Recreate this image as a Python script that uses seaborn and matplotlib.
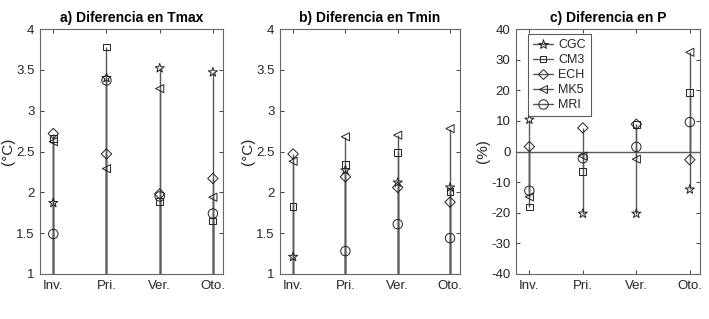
import numpy as np
import pandas as pd
import matplotlib
matplotlib.use("Agg")
import matplotlib.pyplot as plt
import seaborn as sns
from matplotlib.legend_handler import HandlerLine2D
from matplotlib.lines import Line2D

# ---------------- data ----------------
seasons = ["Inv.", "Pri.", "Ver.", "Oto."]
models = ["CGC", "CM3", "ECH", "MK5", "MRI"]

tmax_CGC = [1.87, 3.40, 3.52, 3.47]
tmax_CM3 = [2.66, 3.78, 1.89, 1.65]
tmax_ECH = [2.72, 2.47, 1.98, 2.17]
tmax_MK5 = [2.62, 2.29, 3.27, 1.94]
tmax_MRI = [1.49, 3.37, 1.95, 1.74]

tmin_CGC = [1.21, 2.27, 2.12, 2.06]
tmin_CM3 = [1.83, 2.34, 2.49, 2.01]
tmin_ECH = [2.47, 2.19, 2.06, 1.88]
tmin_MK5 = [2.38, 2.68, 2.70, 2.78]
tmin_MRI = [0.90, 1.28, 1.61, 1.44]

p_CGC = [10.4, -20.3, -20.3, -12.4]
p_CM3 = [-18.1, -6.5, 8.7, 19.2]
p_ECH = [1.6, 7.7, 8.9, -2.7]
p_MK5 = [-14.8, -1.5, -2.5, 32.4]
p_MRI = [-12.8, -2.2, 1.5, 9.6]

titles = ["a) Diferencia en Tmax", "b) Diferencia en Tmin", "c) Diferencia en P"]
ylabels = ["(°C)", "(°C)", "(%)"]

# ---------------- style ----------------
sns.set_style("ticks")
plt.rcParams["font.family"] = ["Liberation Sans", "DejaVu Sans"]
AXC = "#262626"
STEM = "#5a5a5a"

markers = {"CGC": "*", "CM3": "s", "ECH": "D", "MK5": "<", "MRI": "o"}
msizes = {"CGC": 48, "CM3": 24, "ECH": 28, "MK5": 34, "MRI": 46}

panels = [
    {"CGC": tmax_CGC, "CM3": tmax_CM3, "ECH": tmax_ECH, "MK5": tmax_MK5, "MRI": tmax_MRI},
    {"CGC": tmin_CGC, "CM3": tmin_CM3, "ECH": tmin_ECH, "MK5": tmin_MK5, "MRI": tmin_MRI},
    {"CGC": p_CGC, "CM3": p_CM3, "ECH": p_ECH, "MK5": p_MK5, "MRI": p_MRI},
]
baselines = [1, 1, 0]
ylims = [(1, 4), (1, 4), (-40, 40)]
yticks = [np.arange(1, 4.01, 0.5), np.arange(1, 4.01, 0.5), np.arange(-40, 41, 10)]

fig = plt.figure(figsize=(7.09, 3.19), dpi=100)
lefts = [40 / 709, 280 / 709, 516 / 709]
widths = [183 / 709, 180 / 709, 184 / 709]
bottom = 45 / 319
height = 245 / 319

xpos = np.arange(1, len(seasons) + 1)

for i in range(3):
    ax = fig.add_axes([lefts[i], bottom, widths[i], height])
    data = panels[i]
    base = baselines[i]
    for m in models:
        vals = np.array(data[m])
        ax.vlines(xpos, base, vals, color=STEM, lw=1.0, zorder=1)
    for m in models:
        df = pd.DataFrame({"x": xpos, "y": data[m]})
        sns.scatterplot(data=df, x="x", y="y", ax=ax, marker=markers[m],
                        s=msizes[m], facecolor="none", edgecolor="#222222",
                        linewidth=0.7, zorder=3, clip_on=True, legend=False)
    if base == 0:
        ax.axhline(0, color=STEM, lw=1.0, zorder=1)
    ax.set_xlim(0.75, 4.19)
    ax.set_ylim(*ylims[i])
    ax.set_xticks(xpos)
    ax.set_xticklabels(seasons)
    ax.set_yticks(yticks[i])
    if i < 2:
        ax.set_yticklabels(["1", "1.5", "2", "2.5", "3", "3.5", "4"])
    else:
        ax.set_yticklabels([str(int(v)) for v in yticks[i]])
    ax.set_xlabel("")
    ax.set_ylabel(ylabels[i], fontsize=11, color=AXC, labelpad=1)
    ax.set_title(titles[i], fontsize=10, fontweight="bold", color="black", pad=5)
    ax.tick_params(direction="in", length=3, width=0.6, top=True, right=True,
                   labelsize=9.5, colors=AXC, pad=4)
    for s in ax.spines.values():
        s.set_visible(True)
        s.set_color("#666666")
        s.set_linewidth(0.8)

    if i == 2:
        class StemHandler(HandlerLine2D):
            def get_xdata(self, legend, xdescent, ydescent, width, height, fontsize):
                xd = np.array([-xdescent, width - xdescent])
                xm = np.array([width - xdescent])
                return xd, xm
        handles = [Line2D([0], [0], color=STEM, lw=1.0, marker=markers[m],
                          markersize=np.sqrt(msizes[m]), markerfacecolor="none",
                          markeredgecolor="#222222", markeredgewidth=0.7)
                   for m in models]
        leg = ax.legend(handles, models, loc="upper left",
                        bbox_to_anchor=(0.065, 0.98), fontsize=9,
                        frameon=True, fancybox=False, edgecolor="#333333",
                        handlelength=1.6, handletextpad=0.4, labelspacing=0.25,
                        borderpad=0.4, borderaxespad=0.0,
                        handler_map={h: StemHandler() for h in handles})
        leg.get_frame().set_linewidth(0.8)

fig.savefig("out.png", dpi=100)
